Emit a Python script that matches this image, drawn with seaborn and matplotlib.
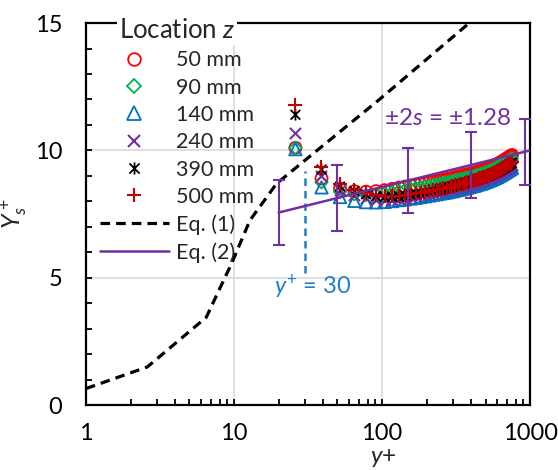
import numpy as np
import pandas as pd
import matplotlib
matplotlib.use("Agg")
import matplotlib.pyplot as plt
from matplotlib.path import Path
from matplotlib.lines import Line2D
from matplotlib.ticker import MultipleLocator, FixedLocator, FuncFormatter, LogLocator, NullFormatter
import seaborn as sns

# ---------------- data ----------------
yplus = [26, 39, 52, 65, 78, 91, 104, 117, 130, 143,
         156, 169, 182, 195, 208, 221, 234, 247, 260, 273,
         286, 299, 312, 325, 338, 351, 364, 377, 390, 403,
         416, 429, 442, 455, 468, 481, 494, 507, 520, 533,
         546, 559, 572, 585, 598, 611, 624, 637, 650, 663,
         676, 689, 702, 715, 728, 741, 754]

ys_50 = [10.10, 8.90, 8.50, 8.40, 8.38, 8.40, 8.44, 8.49, 8.54, 8.58,
         8.62, 8.65, 8.68, 8.71, 8.74, 8.77, 8.79, 8.82, 8.85, 8.87,
         8.89, 8.92, 8.95, 8.97, 8.99, 9.02, 9.04, 9.06, 9.08, 9.10,
         9.12, 9.14, 9.16, 9.18, 9.21, 9.23, 9.25, 9.28, 9.30, 9.33,
         9.35, 9.38, 9.41, 9.43, 9.46, 9.49, 9.52, 9.55, 9.58, 9.61,
         9.64, 9.67, 9.70, 9.73, 9.76, 9.79, 9.82]
ys_90 = [10.10, 8.75, 8.38, 8.28, 8.25, 8.27, 8.31, 8.36, 8.41, 8.45,
         8.49, 8.52, 8.55, 8.58, 8.61, 8.64, 8.66, 8.69, 8.72, 8.74,
         8.76, 8.79, 8.82, 8.84, 8.86, 8.89, 8.91, 8.93, 8.95, 8.97,
         8.99, 9.01, 9.03, 9.05, 9.08, 9.10, 9.12, 9.15, 9.17, 9.20,
         9.22, 9.25, 9.28, 9.30, 9.33, 9.36, 9.39, 9.42, 9.45, 9.48,
         9.51, 9.54, 9.57, 9.60, 9.63, 9.66, 9.68]
ys_140 = [10.05, 8.55, 8.17, 8.02, 7.97, 7.96, 7.98, 8.01, 8.05, 8.08,
          8.11, 8.14, 8.17, 8.20, 8.23, 8.26, 8.28, 8.31, 8.33, 8.35,
          8.38, 8.40, 8.43, 8.45, 8.47, 8.50, 8.52, 8.54, 8.57, 8.59,
          8.61, 8.63, 8.66, 8.68, 8.70, 8.73, 8.75, 8.78, 8.80, 8.83,
          8.85, 8.88, 8.91, 8.93, 8.96, 8.99, 9.02, 9.05, 9.08, 9.11,
          9.14, 9.17, 9.20, 9.23, 9.26, 9.29, 9.32]
ys_240 = [10.70, 9.00, 8.45, 8.25, 8.12, 8.06, 8.05, 8.07, 8.10, 8.14,
          8.18, 8.21, 8.24, 8.27, 8.30, 8.33, 8.36, 8.39, 8.42, 8.44,
          8.47, 8.50, 8.53, 8.55, 8.58, 8.60, 8.63, 8.65, 8.68, 8.70,
          8.72, 8.75, 8.77, 8.80, 8.82, 8.85, 8.87, 8.90, 8.92, 8.95,
          8.97, 9.00, 9.03, 9.05, 9.08, 9.11, 9.14, 9.17, 9.20, 9.23,
          9.26, 9.29, 9.32, 9.35, 9.38, 9.41, 9.44]
ys_390 = [11.40, 9.25, 8.58, 8.40, 8.28, 8.20, 8.17, 8.18, 8.20, 8.23,
          8.26, 8.29, 8.32, 8.35, 8.38, 8.41, 8.44, 8.47, 8.50, 8.52,
          8.55, 8.58, 8.61, 8.63, 8.66, 8.68, 8.71, 8.73, 8.76, 8.78,
          8.80, 8.83, 8.85, 8.88, 8.90, 8.93, 8.95, 8.98, 9.00, 9.03,
          9.05, 9.08, 9.11, 9.13, 9.16, 9.19, 9.22, 9.25, 9.28, 9.31,
          9.34, 9.37, 9.40, 9.43, 9.46, 9.49, 9.52]
ys_500 = [11.80, 9.35, 8.68, 8.45, 8.32, 8.24, 8.20, 8.20, 8.22, 8.25,
          8.28, 8.31, 8.34, 8.37, 8.40, 8.43, 8.46, 8.49, 8.52, 8.54,
          8.57, 8.60, 8.63, 8.65, 8.68, 8.70, 8.73, 8.75, 8.78, 8.80,
          8.82, 8.85, 8.87, 8.90, 8.92, 8.95, 8.97, 9.00, 9.02, 9.05,
          9.07, 9.10, 9.13, 9.15, 9.18, 9.21, 9.24, 9.27, 9.30, 9.33,
          9.36, 9.39, 9.42, 9.45, 9.48, 9.51, 9.55]

series_labels = ["50 mm", "90 mm", "140 mm", "240 mm", "390 mm", "500 mm"]
series_values = [ys_50, ys_90, ys_140, ys_240, ys_390, ys_500]

# Eq. (1) polyline
eq1_x = [1, 2.6, 6.5, 9.7, 12.8, 19.4, 96, 388]
eq1_y = [0.65, 1.5, 3.45, 5.6, 7.25, 8.7, 12.0, 15.0]
# Eq. (2) line
eq2_x = [20, 1000]
eq2_y = [7.56, 10.0]
# error bars (+/- 2s)
err_x = [20, 50, 150, 400, 920]
err_y = [7.56, 8.13, 8.82, 9.43, 9.94]
err_2s = 1.28
# y+ = 30 marker line
vline_x = 30
vline_y = [5.2, 9.2]

xticks = [1, 10, 100, 1000]
yticks = [0, 5, 10, 15]

# ---------------- style ----------------
sns.set_style("white")
plt.rcParams["font.family"] = ["Lato", "DejaVu Sans"]
plt.rcParams["mathtext.fontset"] = "custom"
plt.rcParams["mathtext.rm"] = "Lato"
plt.rcParams["mathtext.it"] = "Lato:italic"
plt.rcParams["mathtext.bf"] = "Lato:bold"

RED = "#FF0000"
GREEN = "#00B050"
BLUE = "#0070C0"
PURPLE = "#7030A0"
BLACK = "#000000"
DRED = "#C00000"
LBLUE = "#1F7FC8"

star_path = Path([(-1, -1), (1, 1), (-1, 1), (1, -1), (0, -1.2), (0, 1.2)],
                 [Path.MOVETO, Path.LINETO, Path.MOVETO, Path.LINETO, Path.MOVETO, Path.LINETO])

styles = [
    dict(marker="o", color=RED, open=True, s=75),
    dict(marker="D", color=GREEN, open=True, s=40),
    dict(marker="^", color=BLUE, open=True, s=80),
    dict(marker="x", color=PURPLE, open=False, s=64),
    dict(marker=star_path, color=BLACK, open=True, s=70),
    dict(marker="+", color=DRED, open=False, s=90),
]

fig = plt.figure(figsize=(5.58, 4.70), dpi=100)
ax = fig.add_axes([0.154, 0.138, 0.796, 0.813])

for lab, vals, st in zip(series_labels, series_values, styles):
    df = pd.DataFrame({"yplus": yplus, "Ys": vals})
    if st["open"]:
        sns.scatterplot(data=df, x="yplus", y="Ys", ax=ax, marker=st["marker"], s=st["s"],
                        facecolor="none", edgecolor=st["color"], linewidth=1.3, zorder=3)
    else:
        sns.scatterplot(data=df, x="yplus", y="Ys", ax=ax, marker=st["marker"], s=st["s"],
                        color=st["color"], linewidth=1.5, zorder=3)

sns.lineplot(x=eq1_x, y=eq1_y, ax=ax, color="black", lw=2.3, zorder=4,
             estimator=None, sort=False).lines[-1].set_dashes([3.0, 1.9])
sns.lineplot(x=eq2_x, y=eq2_y, ax=ax, color=PURPLE, lw=1.8, zorder=4, estimator=None, sort=False)
ax.errorbar(err_x, err_y, yerr=err_2s, fmt="none", ecolor=PURPLE, elinewidth=1.5,
            capsize=4.5, capthick=1.5, zorder=4)
ax.plot([vline_x, vline_x], vline_y, color=LBLUE, lw=1.8, dashes=[3.0, 2.0], zorder=2)

ax.text(103, 11.25, "±2$s$ = ±1.28", color=PURPLE, fontsize=17.5, ha="left", va="center")
ax.text(18.6, 4.63, "$y^{+}$ = 30", color=LBLUE, fontsize=17, ha="left", va="center")

ax.set_xscale("log")
ax.set_xlim(1, 1000)
ax.set_ylim(0, 15)
ax.xaxis.set_major_locator(FixedLocator(xticks))
ax.xaxis.set_major_formatter(FuncFormatter(lambda v, p: f"{v:g}"))
ax.xaxis.set_minor_locator(LogLocator(base=10, subs=np.arange(2, 10)))
ax.xaxis.set_minor_formatter(NullFormatter())
ax.yaxis.set_major_locator(FixedLocator(yticks))
ax.yaxis.set_minor_locator(MultipleLocator(1))

ax.grid(True, which="major", color="#D9D9D9", lw=1.2, zorder=0)
ax.set_axisbelow(True)
for sp in ax.spines.values():
    sp.set_color("black")
    sp.set_linewidth(1.6)
ax.tick_params(which="both", direction="in", length=4.5, width=1.3, colors="black",
               bottom=True, left=True, top=False, right=False)
ax.tick_params(axis="x", which="major", labelsize=17, pad=13)
ax.tick_params(axis="y", which="major", labelsize=17, pad=17)

ax.set_xlabel("$y$+", fontsize=17.5)
ax.xaxis.set_label_coords(0.669, -0.110)
ax.set_ylabel("$Y_s^+$", fontsize=18)
ax.yaxis.set_label_coords(-0.125, 0.5)

handles = []
for st in styles:
    if st["open"]:
        h = Line2D([], [], ls="none", marker=st["marker"], mfc="none", mec=st["color"],
                   ms=np.sqrt(st["s"]) * 1.05, mew=1.3)
    else:
        h = Line2D([], [], ls="none", marker=st["marker"], color=st["color"],
                   ms=np.sqrt(st["s"]) * 1.05, mew=1.5)
    handles.append(h)
handles.append(Line2D([], [], color="black", lw=2.3, dashes=[3.0, 1.9]))
handles.append(Line2D([], [], color=PURPLE, lw=1.8))
labels = series_labels + ["Eq. (1)", "Eq. (2)"]

leg = ax.legend(handles, labels, loc="upper left", bbox_to_anchor=(14 / 444, 1.0 + 5 / 382),
                borderaxespad=0, borderpad=0, frameon=False, fontsize=15.5,
                title="Location $z$", title_fontsize=18.5, handlelength=3.2,
                handletextpad=0.33, labelspacing=0.34)
leg.get_title().set_bbox(dict(facecolor="white", edgecolor="none", pad=1.5))
leg.set_zorder(10)

fig.savefig("out.png", dpi=100)
